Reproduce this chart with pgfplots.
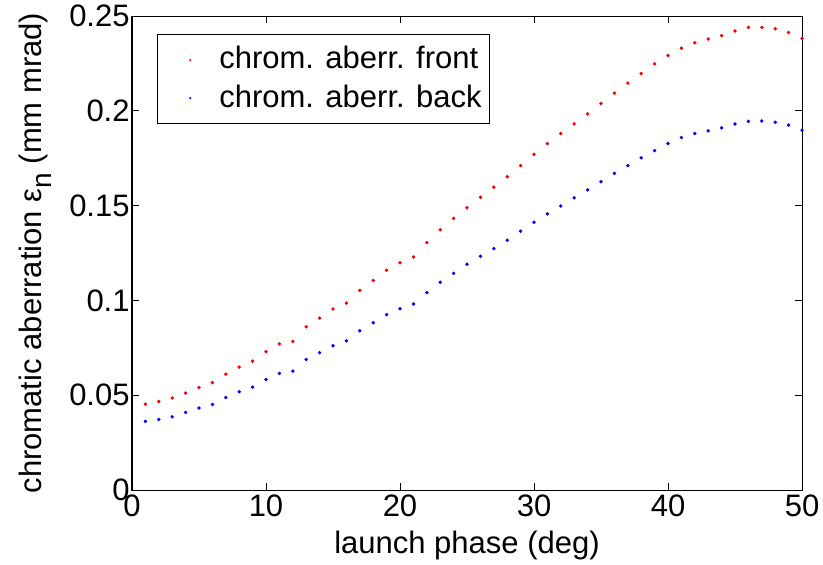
\documentclass[border=0pt]{standalone}
\usepackage{fontspec}
\setmainfont{Liberation Sans}
\usepackage{pgfplots}
\pgfplotsset{compat=1.18}
\newcommand{\chartfont}{\fontsize{15.5}{18.6}\selectfont}

\begin{document}
\chartfont
\begin{tikzpicture}
\begin{axis}[
  scale only axis,
  width=335pt, height=237pt,
  xmin=0, xmax=50, ymin=0, ymax=0.25,
  xtick={0,10,20,30,40,50},
  xticklabels={0,10,20,30,40,50},
  ytick={0,0.05,0.1,0.15,0.2,0.25},
  yticklabels={0,0.05,0.1,0.15,0.2,0.25},
  scaled y ticks=false,
  tick align=inside,
  major tick length=3.5pt,
  tick style={black, line width=0.4pt},
  axis line style={line width=0.5pt},
  tick label style={font=\chartfont},
  label style={font=\chartfont},
  xticklabel style={inner sep=1pt, yshift=-1pt},
  yticklabel style={inner sep=1pt, xshift=0pt},
  xlabel={launch phase (deg)},
  ylabel={chromatic aberration ε\raisebox{-0.55ex}{\fontsize{14}{15}\selectfont n} (mm mrad)},
  xlabel style={at={(axis description cs:0.5,0)}, anchor=base, inner sep=0pt, yshift=-31.5pt},
  ylabel style={at={(axis description cs:0,0.5)}, anchor=base, inner sep=0pt, yshift=45pt},
  legend style={at={(0.037,0.962)}, anchor=north west,
    font=\chartfont, draw=black, line width=0.5pt,
    inner xsep=2pt, inner ysep=4pt, row sep=1.5pt},
  legend cell align=left,
  legend image code/.code={\path[draw=none] (0pt,0pt) -- (27pt,0pt); \fill[draw=none] (14.5pt,0pt) circle (0.6pt);},
]
\addplot[only marks, mark=*, mark size=0.65pt, red] coordinates {
(1,0.0453)(2,0.0467)(3,0.0485)(4,0.0511)(5,0.0541)(6,0.0566)(7,0.0611)(8,0.0648)(9,0.0680)(10,0.0729)
(11,0.0771)(12,0.0784)(13,0.0861)(14,0.0907)(15,0.0955)(16,0.0986)(17,0.1053)(18,0.1105)(19,0.1159)(20,0.1199)
(21,0.1229)(22,0.1305)(23,0.1373)(24,0.1433)(25,0.1489)(26,0.1544)(27,0.1597)(28,0.1652)(29,0.1711)(30,0.1771)
(31,0.1827)(32,0.1880)(33,0.1931)(34,0.1984)(35,0.2039)(36,0.2093)(37,0.2146)(38,0.2197)(39,0.2247)(40,0.2292)
(41,0.2331)(42,0.2359)(43,0.2379)(44,0.2396)(45,0.2421)(46,0.2440)(47,0.2440)(48,0.2433)(49,0.2413)(50,0.2382)
};
\addlegendentry{chrom. aberr. front}
\addplot[only marks, mark=*, mark size=0.65pt, blue] coordinates {
(1,0.0362)(2,0.0372)(3,0.0386)(4,0.0409)(5,0.0432)(6,0.0451)(7,0.0488)(8,0.0518)(9,0.0543)(10,0.0583)
(11,0.0615)(12,0.0627)(13,0.0689)(14,0.0724)(15,0.0761)(16,0.0787)(17,0.0840)(18,0.0882)(19,0.0925)(20,0.0956)
(21,0.0981)(22,0.1041)(23,0.1096)(24,0.1143)(25,0.1191)(26,0.1233)(27,0.1273)(28,0.1317)(29,0.1365)(30,0.1412)
(31,0.1456)(32,0.1498)(33,0.1541)(34,0.1583)(35,0.1626)(36,0.1670)(37,0.1711)(38,0.1752)(39,0.1790)(40,0.1827)
(41,0.1859)(42,0.1880)(43,0.1894)(44,0.1910)(45,0.1930)(46,0.1944)(47,0.1946)(48,0.1940)(49,0.1925)(50,0.1898)
};
\addlegendentry{chrom. aberr. back}
\end{axis}
\pgfresetboundingbox
\path ([xshift=-66pt,yshift=-37pt]current axis.south west) rectangle ([xshift=10.5pt,yshift=8pt]current axis.north east);
\end{tikzpicture}
\end{document}
